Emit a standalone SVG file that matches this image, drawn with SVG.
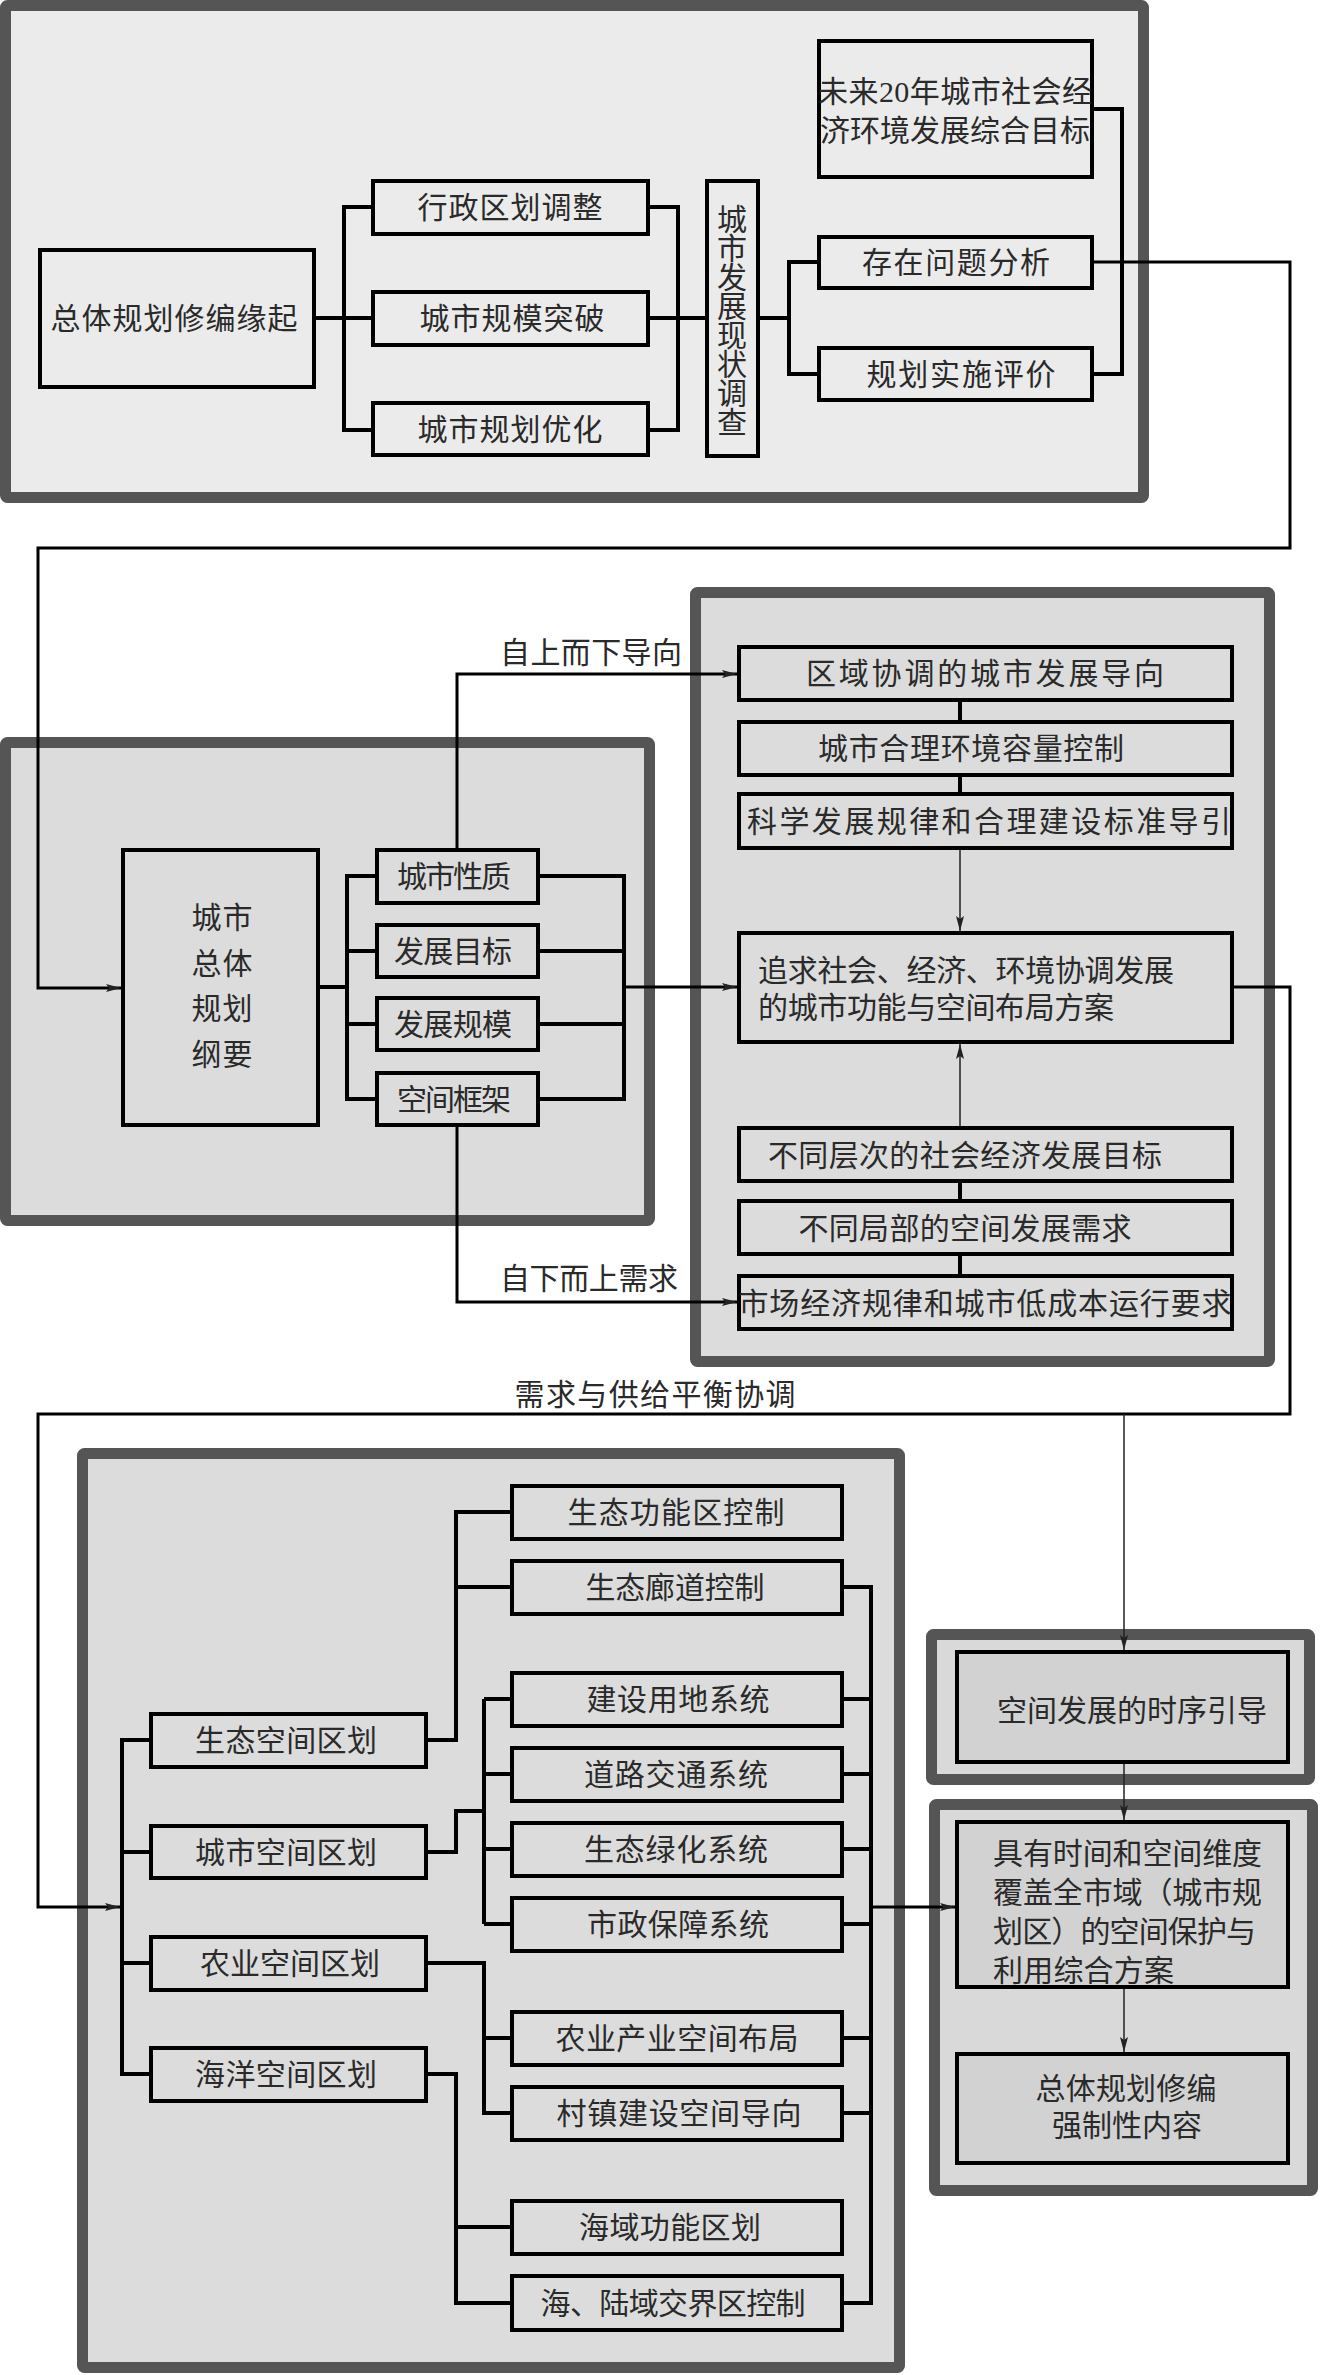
<svg xmlns="http://www.w3.org/2000/svg" width="1320" height="2375" viewBox="0 0 1320 2375">
<defs>
<style>
.panel{stroke:#555;stroke-width:11;stroke-linejoin:round}
.p1{fill:#ebebeb}
.p2{fill:#dcdcdc}
.p5{fill:#d9d9d9}
.box{stroke:#000;stroke-width:4}
.bx1{fill:#ebebeb}
.bx2{fill:#dcdcdc}
.bx5{fill:#d2d2d2}
.ln{fill:none;stroke:#000;stroke-width:4}
.lo{fill:none;stroke:#000;stroke-width:3}
.lt{fill:none;stroke:#222;stroke-width:1.5}
text{font-family:"Liberation Serif","Noto Sans CJK SC",serif;font-size:30px;fill:#2a2a2a}
.c{text-anchor:middle}
</style>
<marker id="ah" markerUnits="userSpaceOnUse" markerWidth="16" markerHeight="10" refX="15" refY="5" orient="auto">
<path d="M0,1 L15,5 L0,9 L3,5 z" fill="#222"/>
</marker>
</defs>

<g id="panels">
<rect id="panel1" class="panel p1" x="5.5" y="5.5" width="1138" height="492" rx="2"/>
<rect id="panel2" class="panel p2" x="5.5" y="742.5" width="644" height="478" rx="2"/>
<rect id="panel3" class="panel p2" x="695.5" y="592.5" width="574" height="769" rx="2"/>
<rect id="panel4" class="panel p2" x="82.5" y="1453.5" width="817" height="914" rx="2"/>
<rect id="panel5" class="panel p5" x="931.5" y="1634.5" width="378" height="145" rx="2"/>
<rect id="panel6" class="panel p5" x="934.5" y="1804.5" width="378" height="386" rx="2"/>
</g>

<g id="connectors">
<!-- panel 1 -->
<path class="ln" d="M314,318 H344 M373,207 H344 V430 H373 M344,318 H373"/>
<path class="ln" d="M648,207 H678 V430 H648 M648,318 H707"/>
<path class="ln" d="M758,318 H789 M819,262 H789 V374 H819"/>
<path class="ln" d="M1092,109 H1122 V374 H1092"/>
<path class="lo" d="M1092,262 H1290 V548 H38 V988 H121" marker-end="url(#ah)"/>
<!-- panel 2 -->
<path class="ln" d="M318,987 H347 M377,876 H347 V1099 H377 M347,951 H377 M347,1024 H377"/>
<path class="ln" d="M538,876 H624 V1099 H538 M538,951 H624 M538,1024 H624"/>
<path class="lo" d="M624,987 H737" marker-end="url(#ah)"/>
<path class="lo" d="M457,850 V674 H737" marker-end="url(#ah)"/>
<path class="lo" d="M457,1125 V1302 H737" marker-end="url(#ah)"/>
<!-- panel 3 -->
<path class="ln" d="M960,700 V722 M960,775 V794 M960,1181 V1201 M960,1254 V1276"/>
<path class="lt" d="M960,850 V931" marker-end="url(#ah)"/>
<path class="lt" d="M960,1126 V1044" marker-end="url(#ah)"/>
<path class="lo" d="M1232,987 H1290 V1414 H38 V1907 H120" marker-end="url(#ah)"/>
<path class="lt" d="M1124,1414 V1650" marker-end="url(#ah)"/>
<!-- panel 4 -->
<path class="ln" d="M151,1740 H122 V2074 H151 M122,1852 H151 M122,1963 H151"/>
<path class="ln" d="M426,1740 H456 V1512 H512 M456,1587 H512"/>
<path class="ln" d="M426,1852 H456 V1811 H484 M484,1699 V1924 M484,1699 H512 M484,1774 H512 M484,1849 H512 M484,1924 H512"/>
<path class="ln" d="M426,1963 H484 V2113 H512 M484,2038 H512"/>
<path class="ln" d="M426,2074 H456 V2303 H512 M456,2227 H512"/>
<path class="ln" d="M842,1587 H871 V2303 H842 M842,1699 H871 M842,1774 H871 M842,1849 H871 M842,1924 H871 M842,2038 H871 M842,2113 H871"/>
<path class="lo" d="M871,1907 H955" marker-end="url(#ah)"/>
<!-- panels 5/6 -->
<path class="lt" d="M1124,1764 V1820" marker-end="url(#ah)"/>
<path class="lt" d="M1124,1989 V2052" marker-end="url(#ah)"/>
</g>

<g id="labels">
<text class="c" x="591" y="663" textLength="182" lengthAdjust="spacing">自上而下导向</text>
<text class="c" x="589" y="1289" textLength="178" lengthAdjust="spacing">自下而上需求</text>
<text class="c" x="655" y="1405" textLength="281" lengthAdjust="spacing">需求与供给平衡协调</text>
</g>

<g id="n-origin"><rect class="box bx1" x="40" y="250" width="274" height="137"/><text class="c" x="174" y="329" textLength="247" lengthAdjust="spacing">总体规划修编缘起</text></g>
<g id="n-admin"><rect class="box bx1" x="373" y="181" width="275" height="53"/><text class="c" x="510" y="218" textLength="185" lengthAdjust="spacing">行政区划调整</text></g>
<g id="n-scale"><rect class="box bx1" x="373" y="292" width="275" height="53"/><text class="c" x="512" y="329" textLength="185" lengthAdjust="spacing">城市规模突破</text></g>
<g id="n-opt"><rect class="box bx1" x="373" y="403" width="275" height="52"/><text class="c" x="510" y="440" textLength="185" lengthAdjust="spacing">城市规划优化</text></g>
<g id="n-survey"><rect class="box bx1" x="707" y="181" width="51" height="275"/>
<text class="c"><tspan x="732" y="230">城</tspan><tspan x="732" y="259">市</tspan><tspan x="732" y="288">发</tspan><tspan x="732" y="317">展</tspan><tspan x="732" y="346">现</tspan><tspan x="732" y="375">状</tspan><tspan x="732" y="404">调</tspan><tspan x="732" y="433">查</tspan></text></g>
<g id="n-goal"><rect class="box bx1" x="819" y="41" width="273" height="136"/>
<text class="c" x="955" y="102" textLength="274" lengthAdjust="spacing">未来20年城市社会经</text>
<text class="c" x="955" y="141" textLength="270" lengthAdjust="spacing">济环境发展综合目标</text></g>
<g id="n-problem"><rect class="box bx1" x="819" y="237" width="273" height="51"/><text class="c" x="956" y="273" textLength="188" lengthAdjust="spacing">存在问题分析</text></g>
<g id="n-eval"><rect class="box bx1" x="819" y="348" width="273" height="52"/><text class="c" x="961" y="385" textLength="189" lengthAdjust="spacing">规划实施评价</text></g>

<g id="n-outline"><rect class="box bx2" x="123" y="850" width="195" height="275"/>
<text class="c" x="222" y="928" textLength="61" lengthAdjust="spacing">城市</text>
<text class="c" x="222" y="974" textLength="61" lengthAdjust="spacing">总体</text>
<text class="c" x="222" y="1019" textLength="61" lengthAdjust="spacing">规划</text>
<text class="c" x="222" y="1065" textLength="61" lengthAdjust="spacing">纲要</text></g>
<g id="n-nature"><rect class="box bx2" x="377" y="850" width="161" height="53"/><text class="c" x="454" y="887" textLength="114" lengthAdjust="spacing">城市性质</text></g>
<g id="n-target"><rect class="box bx2" x="377" y="925" width="161" height="52"/><text class="c" x="453" y="962" textLength="118" lengthAdjust="spacing">发展目标</text></g>
<g id="n-size"><rect class="box bx2" x="377" y="998" width="161" height="52"/><text class="c" x="453" y="1035" textLength="118" lengthAdjust="spacing">发展规模</text></g>
<g id="n-frame"><rect class="box bx2" x="377" y="1073" width="161" height="52"/><text class="c" x="454" y="1110" textLength="114" lengthAdjust="spacing">空间框架</text></g>

<g id="n-region"><rect class="box bx2" x="739" y="647" width="493" height="53"/><text class="c" x="985" y="684" textLength="358" lengthAdjust="spacing">区域协调的城市发展导向</text></g>
<g id="n-capacity"><rect class="box bx2" x="739" y="722" width="493" height="53"/><text class="c" x="971" y="759" textLength="306" lengthAdjust="spacing">城市合理环境容量控制</text></g>
<g id="n-science"><rect class="box bx2" x="739" y="794" width="493" height="54"/><text class="c" x="989" y="832" textLength="484" lengthAdjust="spacing">科学发展规律和合理建设标准导引</text></g>
<g id="n-pursue"><rect class="box bx2" x="739" y="933" width="493" height="109"/>
<text x="758" y="981" textLength="416" lengthAdjust="spacing">追求社会、经济、环境协调发展</text>
<text x="758" y="1018" textLength="356" lengthAdjust="spacing">的城市功能与空间布局方案</text></g>
<g id="n-levels"><rect class="box bx2" x="739" y="1128" width="493" height="53"/><text class="c" x="965" y="1166" textLength="394" lengthAdjust="spacing">不同层次的社会经济发展目标</text></g>
<g id="n-local"><rect class="box bx2" x="739" y="1201" width="493" height="53"/><text class="c" x="965" y="1239" textLength="333" lengthAdjust="spacing">不同局部的空间发展需求</text></g>
<g id="n-market"><rect class="box bx2" x="739" y="1276" width="493" height="53"/><text class="c" x="985" y="1314" textLength="493" lengthAdjust="spacing">市场经济规律和城市低成本运行要求</text></g>

<g id="n-eco-zone"><rect class="box bx2" x="151" y="1714" width="275" height="53"/><text class="c" x="286" y="1751" textLength="182" lengthAdjust="spacing">生态空间区划</text></g>
<g id="n-city-zone"><rect class="box bx2" x="151" y="1826" width="275" height="52"/><text class="c" x="286" y="1863" textLength="182" lengthAdjust="spacing">城市空间区划</text></g>
<g id="n-agri-zone"><rect class="box bx2" x="151" y="1937" width="275" height="53"/><text class="c" x="290" y="1974" textLength="180" lengthAdjust="spacing">农业空间区划</text></g>
<g id="n-sea-zone"><rect class="box bx2" x="151" y="2048" width="275" height="53"/><text class="c" x="286" y="2085" textLength="182" lengthAdjust="spacing">海洋空间区划</text></g>

<g id="n-eco-func"><rect class="box bx2" x="512" y="1486" width="330" height="53"/><text class="c" x="676" y="1523" textLength="217" lengthAdjust="spacing">生态功能区控制</text></g>
<g id="n-eco-corr"><rect class="box bx2" x="512" y="1561" width="330" height="53"/><text class="c" x="675" y="1598" textLength="179" lengthAdjust="spacing">生态廊道控制</text></g>
<g id="n-land"><rect class="box bx2" x="512" y="1673" width="330" height="53"/><text class="c" x="678" y="1710" textLength="183" lengthAdjust="spacing">建设用地系统</text></g>
<g id="n-road"><rect class="box bx2" x="512" y="1748" width="330" height="53"/><text class="c" x="676" y="1785" textLength="184" lengthAdjust="spacing">道路交通系统</text></g>
<g id="n-green"><rect class="box bx2" x="512" y="1823" width="330" height="53"/><text class="c" x="676" y="1860" textLength="184" lengthAdjust="spacing">生态绿化系统</text></g>
<g id="n-util"><rect class="box bx2" x="512" y="1898" width="330" height="53"/><text class="c" x="678" y="1935" textLength="182" lengthAdjust="spacing">市政保障系统</text></g>
<g id="n-agri-ind"><rect class="box bx2" x="512" y="2012" width="330" height="53"/><text class="c" x="677" y="2049" textLength="243" lengthAdjust="spacing">农业产业空间布局</text></g>
<g id="n-village"><rect class="box bx2" x="512" y="2087" width="330" height="53"/><text class="c" x="679" y="2124" textLength="245" lengthAdjust="spacing">村镇建设空间导向</text></g>
<g id="n-sea-func"><rect class="box bx2" x="512" y="2201" width="330" height="53"/><text class="c" x="670" y="2238" textLength="182" lengthAdjust="spacing">海域功能区划</text></g>
<g id="n-coast"><rect class="box bx2" x="512" y="2276" width="330" height="54"/><text class="c" x="673" y="2314" textLength="265" lengthAdjust="spacing">海、陆域交界区控制</text></g>

<g id="n-sequence"><rect class="box bx5" x="957" y="1652" width="331" height="110"/><text class="c" x="1132" y="1721" textLength="270" lengthAdjust="spacing">空间发展的时序引导</text></g>
<g id="n-plan"><rect class="box bx5" x="957" y="1822" width="331" height="165"/>
<text x="993" y="1864" textLength="269" lengthAdjust="spacing">具有时间和空间维度</text>
<text x="993" y="1903" textLength="269" lengthAdjust="spacing">覆盖全市域（城市规</text>
<text x="993" y="1942" textLength="263" lengthAdjust="spacing">划区）的空间保护与</text>
<text x="993" y="1981" textLength="181" lengthAdjust="spacing">利用综合方案</text></g>
<g id="n-mandatory"><rect class="box bx5" x="957" y="2054" width="331" height="109"/>
<text class="c" x="1126" y="2099" textLength="181" lengthAdjust="spacing">总体规划修编</text>
<text class="c" x="1127" y="2136" textLength="150" lengthAdjust="spacing">强制性内容</text></g>
</svg>
